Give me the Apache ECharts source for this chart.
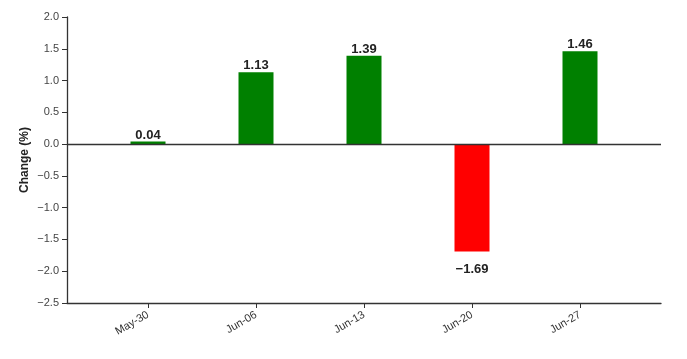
<!DOCTYPE html>
<html><head><meta charset="utf-8">
<script src="https://cdn.jsdelivr.net/npm/echarts@6/dist/echarts.min.js"></script>
<style>html,body{margin:0;padding:0;background:#fff}#c{width:687px;height:359px}</style>
</head><body><div id="c"></div>
<script>
const categories = ['May-30','Jun-06','Jun-13','Jun-20','Jun-27'];
const values = [0.04, 1.13, 1.39, -1.69, 1.46];
const yTicks = [-2.5,-2.0,-1.5,-1.0,-0.5,0.0,0.5,1.0,1.5,2.0];
const yTitle = 'Change (%)';

const font = 'Liberation Sans, Arial, Helvetica, sans-serif';
const fmt = v => (v < 0 ? '\u2212' : '') + Math.abs(v).toFixed(2);
const chart = echarts.init(document.getElementById('c'), null, {renderer:'canvas'});
chart.setOption({
  animation: false,
  grid: {left: 67, right: 26, top: 17, bottom: 56, containLabel: false},
  xAxis: {
    type: 'value', min: -0.75, max: 4.75,
    axisLine: {show: true, onZero: false, lineStyle: {color: '#333', width: 1.3}},
    axisTick: {show: true, customValues: categories.map((c,i)=>i), length: 5, lineStyle: {color: '#333'}},
    axisLabel: {customValues: categories.map((c,i)=>i), formatter: v => categories[Math.round(v)],
      rotate: 30, margin: 11, fontSize: 11, color: '#333', fontFamily: font},
    splitLine: {show: false}
  },
  yAxis: {
    type: 'value', min: yTicks[0], max: yTicks[yTicks.length-1], interval: 0.5,
    name: yTitle, nameLocation: 'middle', nameGap: 36, nameMoveOverlap: false,
    nameTextStyle: {fontSize: 12, fontWeight: 'bold', color: '#222', fontFamily: font},
    axisLine: {show: true, onZero: false, lineStyle: {color: '#333', width: 1.3}},
    axisTick: {show: true, length: 5, lineStyle: {color: '#333'}},
    axisLabel: {formatter: v => (v < 0 ? '\u2212' : '') + Math.abs(v).toFixed(1),
      fontSize: 11, color: '#444', margin: 8, fontFamily: font},
    splitLine: {show: false}
  },
  series: [{
    type: 'bar', barWidth: 35,
    data: values.map((v,i) => ({
      value: [i, v],
      itemStyle: {color: v >= 0 ? '#008000' : '#ff0000'},
      label: {show: true, position: v >= 0 ? 'top' : 'bottom', distance: v >= 0 ? 0 : 11,
        formatter: () => fmt(v), fontSize: 13, fontWeight: 'bold', color: '#222', fontFamily: font}
    })),
    markLine: {silent: true, symbol: 'none', label: {show: false},
      lineStyle: {color: '#333', width: 1.3, type: 'solid'}, data: [{yAxis: 0}]}
  }]
});
</script></body></html>
